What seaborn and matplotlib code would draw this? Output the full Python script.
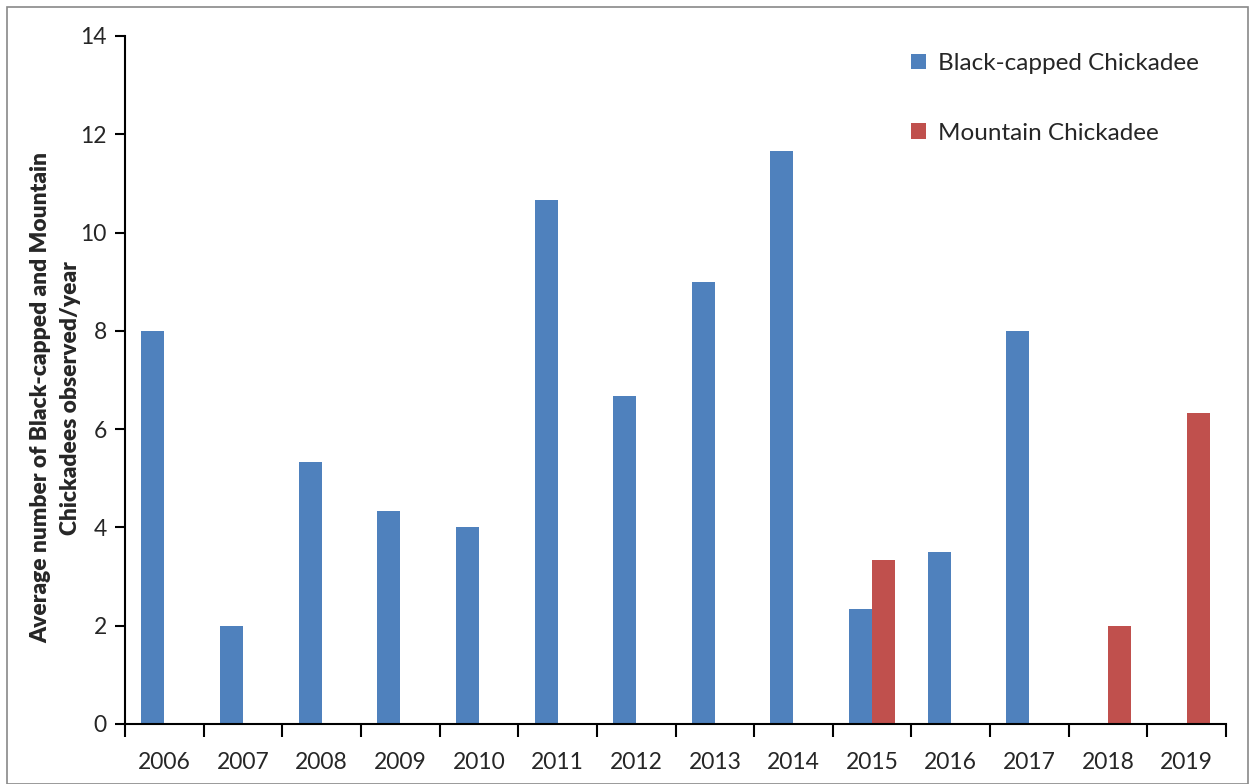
import matplotlib
matplotlib.use('Agg')
import matplotlib.pyplot as plt
import seaborn as sns
import pandas as pd
import numpy as np
from matplotlib.patches import Rectangle

years = ['2006', '2007', '2008', '2009', '2010', '2011', '2012',
         '2013', '2014', '2015', '2016', '2017', '2018', '2019']
black_capped = [8, 2, 5.33, 4.33, 4, 10.67, 6.67, 9, 11.67, 2.33, 3.5, 8, np.nan, np.nan]
mountain = [np.nan, np.nan, np.nan, np.nan, np.nan, np.nan, np.nan,
            np.nan, np.nan, 3.33, np.nan, np.nan, 2, 6.33]
species = ['Black-capped Chickadee', 'Mountain Chickadee']
colors = ['#4F81BD', '#C0504D']

df = pd.DataFrame({
    'year': years * 2,
    'count': black_capped + mountain,
    'species': [species[0]] * len(years) + [species[1]] * len(years),
})
df = df.dropna()

sns.set_style('white')
plt.rcParams['font.family'] = ['Lato', 'DejaVu Sans']

fig = plt.figure(figsize=(12.52, 7.84), dpi=100)
ax = fig.add_axes([125 / 1252, 1 - 724 / 784, 1101 / 1252, 688 / 784])

sns.barplot(data=df, x='year', y='count', hue='species', order=years,
            hue_order=species, palette=colors, width=0.585, dodge=True,
            saturation=1, edgecolor='none', ax=ax)

ax.set_xlim(-0.5, len(years) - 0.5)
ax.set_ylim(0, 14)
ax.set_yticks(range(0, 15, 2))
ax.set_xlabel('')
ylab = ax.set_ylabel('Average number of Black-capped and Mountain\nChickadees observed/year',
                     fontsize=16.4, linespacing=1.5)
ylab.set_fontweight('heavy')
ax.yaxis.set_label_coords(-0.040, 0.474)

# Excel-style: ticks at category boundaries, labels centered
ax.set_xticks(np.arange(-0.5, len(years), 1), minor=True)
ax.tick_params(axis='x', which='major', bottom=True, length=0, pad=20, labelsize=16.5)
ax.tick_params(axis='x', which='minor', bottom=True, length=9, width=1.5,
               direction='out', color='black')
ax.tick_params(axis='y', left=True, length=7, width=1.5, direction='out',
               color='black', labelsize=16.5, pad=6)

for side in ['top', 'right']:
    ax.spines[side].set_visible(False)
for side in ['left', 'bottom']:
    ax.spines[side].set_color('black')
    ax.spines[side].set_linewidth(1.5)

leg = ax.legend(loc='upper right', frameon=False, fontsize=17.5, labelspacing=2.0,
                handlelength=0.6, handleheight=0.6, handletextpad=0.5,
                bbox_to_anchor=(0.995, 1.007))

fig.patches.append(Rectangle((7 / 1252, 0), 1241 / 1252, 1 - 7 / 784,
                             transform=fig.transFigure, fill=False,
                             edgecolor='#898989', linewidth=1.2))

fig.savefig('out.png', dpi=100)
